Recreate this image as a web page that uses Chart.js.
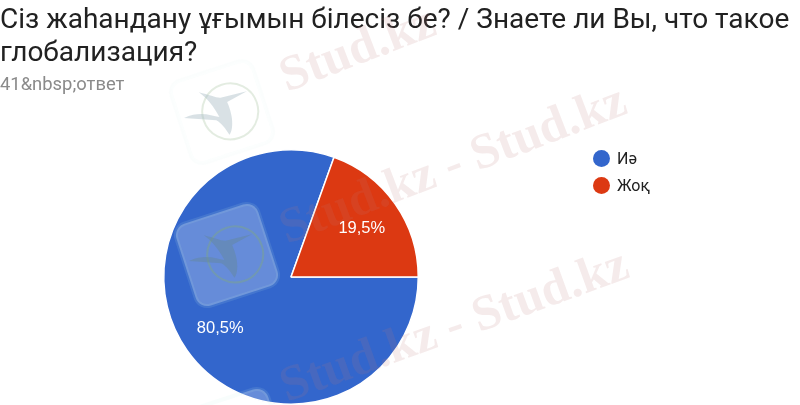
<!DOCTYPE html>
<html>
<head>
<meta charset="utf-8">
<script src="https://cdn.jsdelivr.net/npm/chart.js@4/dist/chart.umd.min.js"></script>
<style>
  html, body { margin: 0; padding: 0; background: #fff; overflow: hidden; }
  #page { position: relative; width: 800px; height: 405px; font-family: Roboto, sans-serif; }
  #chart { position: absolute; left: 0; top: 0; }
  .title { position: absolute; left: 0; top: 3px; color: #212121; font-size: 28px; line-height: 32.5px; white-space: nowrap; }
  .sub { position: absolute; left: 0; top: 74px; color: #8a8a8a; font-size: 18.4px; line-height: 20px; }
  .legend { position: absolute; left: 593px; top: 145px; color: #212121; font-size: 16px; }
  .legend div { height: 27px; line-height: 22px; display: flex; align-items: center; }
  .legend i { width: 17px; height: 17px; border-radius: 50%; margin-right: 7px; display: block; }
  #wm { position: absolute; left: 0; top: 0; pointer-events: none; }
  #wm text { font-family: "Liberation Serif", serif; font-weight: bold; font-size: 50px; fill: rgba(190, 120, 120, 0.15); }
</style>
</head>
<body>
<div id="page">
  <canvas id="chart" width="800" height="405"></canvas>
  <div class="title" id="title"></div>
  <div class="sub" id="sub"></div>
  <div class="legend" id="legend"></div>
  <svg id="wm" width="800" height="405" viewBox="0 0 800 405">
    <defs>
      <g id="mark">
        <rect x="-43" y="-43" width="86" height="86" rx="12" fill="rgba(255,255,255,0.25)" stroke="rgba(200,235,230,0.12)" stroke-width="4"/>
        <circle cx="8" cy="2" r="28" fill="none" stroke="rgba(130,170,120,0.4)" stroke-width="2"/>
        <path d="M-38 -6 C-20 -8 -12 0 -4 4 C-6 -8 -10 -18 -16 -26 C-6 -20 0 -14 4 -14 L30 -12 L8 -8 C10 10 4 22 0 24 C-2 16 -4 10 -8 6 Z" fill="rgba(100,135,150,0.45)"/>
      </g>
    </defs>
    <use href="#mark" opacity="0.55" transform="translate(222 112) rotate(-18)"/>
    <use href="#mark" transform="translate(227 255) rotate(-18)"/>
    <use href="#mark" transform="translate(237 440) rotate(-18)"/>
    <text transform="translate(287 92) rotate(-21)">Stud.kz</text>
    <text transform="translate(287 244) rotate(-21)">Stud.kz - Stud.kz</text>
    <text transform="translate(287 402) rotate(-20)">Stud.kz - Stud.kz</text>
  </svg>
</div>
<script>
const titleLines = ['Сіз жаһандану ұғымын білесіз бе? / Знаете ли Вы, что такое', 'глобализация?'];
const subtitle = '41&nbsp;ответ';
const categories = ['Иә', 'Жоқ'];
const values = [33, 8];
const percentLabels = ['80,5%', '19,5%'];
const colors = ['#3366cc', '#dc3912'];

document.getElementById('title').innerHTML = titleLines.join('<br>');
document.getElementById('sub').textContent = subtitle;
document.getElementById('legend').innerHTML = categories.map(function(name, i) {
    return '<div><i style="background:' + colors[i] + '"></i>' + name + '</div>';
}).join('');

// Percent labels sit at about two thirds of the radius
const sliceLabels = {
    id: 'sliceLabels',
    afterDatasetsDraw(chart) {
        const ctx = chart.ctx;
        chart.getDatasetMeta(0).data.forEach(function(arc, i) {
            const p = arc.getProps(['x', 'y', 'startAngle', 'endAngle', 'outerRadius'], true);
            const mid = (p.startAngle + p.endAngle) / 2;
            ctx.save();
            ctx.fillStyle = '#fff';
            ctx.font = '16.5px Arial, "Liberation Sans", sans-serif';
            ctx.textAlign = 'center';
            ctx.textBaseline = 'middle';
            ctx.fillText(percentLabels[i], p.x + Math.cos(mid) * p.outerRadius * 0.68, p.y + 1.5 + Math.sin(mid) * p.outerRadius * 0.68);
            ctx.restore();
        });
    }
};

new Chart(document.getElementById('chart'), {
    type: 'pie',
    data: {
        labels: categories,
        datasets: [{
            data: values,
            backgroundColor: colors,
            borderColor: '#fff',
            borderWidth: 1.5
        }]
    },
    options: {
        responsive: false,
        animation: false,
        rotation: 90,
        layout: { padding: { left: 163, right: 381, top: 149, bottom: 0 } },
        plugins: {
            legend: { display: false },
            tooltip: { enabled: false }
        }
    },
    plugins: [sliceLabels]
});
</script>
</body>
</html>
